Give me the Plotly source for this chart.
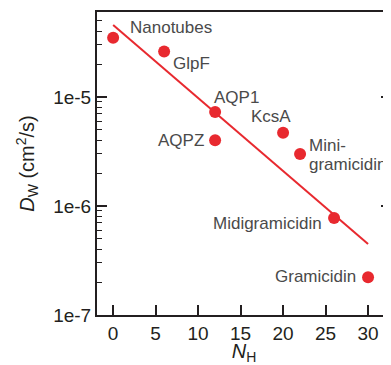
import plotly.graph_objects as go
import math

# Data
names = ["Nanotubes", "GlpF", "AQP1", "AQPZ", "KcsA", "Mini-gramicidin", "Midigramicidin", "Gramicidin"]
n_h = [0, 6, 12, 12, 20, 22, 26, 30]
d_w = [3.48e-5, 2.61e-5, 7.27e-6, 4.0e-6, 4.69e-6, 3.0e-6, 7.76e-7, 2.22e-7]

fit_x = [0, 30]
fit_y = [4.57e-5, 4.47e-7]

x_ticks = [0, 5, 10, 15, 20, 25, 30]
y_tickvals = [1e-7, 1e-6, 1e-5]
y_ticktext = ["1e-7", "1e-6", "1e-5"]

# label pieces: (text, anchor, xshift, yshift)
label_pos = {
    "Nanotubes": [("Nanotubes", "left", 15, 10)],
    "GlpF": [("GlpF", "left", 7, -12)],
    "AQP1": [("AQP1", "left", -3, 14)],
    "AQPZ": [("AQPZ", "right", -9, 0)],
    "KcsA": [("KcsA", "center", -12, 16)],
    "Mini-gramicidin": [("Mini-", "left", 7, 8), ("gramicidin", "left", 7, -11)],
    "Midigramicidin": [("Midigramicidin", "right", -10, -6)],
    "Gramicidin": [("Gramicidin", "right", -10, 1)],
}

RED = "#e8292f"
AXC = "#231f20"
TXT = "#4a4a4a"
FONT = "Liberation Sans, Arial, sans-serif"

fig = go.Figure()
fig.add_trace(go.Scatter(x=fit_x, y=fit_y, mode="lines",
                         line=dict(color=RED, width=2), showlegend=False))
fig.add_trace(go.Scatter(x=n_h, y=d_w, mode="markers",
                         marker=dict(color=RED, size=12, line=dict(width=0)),
                         showlegend=False))
fig.add_trace(go.Scatter(x=[None], y=[None], yaxis="y2", showlegend=False))

for nm, xv, yv in zip(names, n_h, d_w):
    for txt, anc, xs, ys in label_pos[nm]:
        fig.add_annotation(x=xv, y=math.log10(yv), text=txt, showarrow=False,
                           xanchor=anc, yanchor="middle", xshift=xs, yshift=ys,
                           font=dict(family=FONT, size=17, color=TXT))

yr = [-7, math.log10(6e-5)]
fig.update_layout(
    width=383, height=357, autosize=False,
    margin=dict(l=89, r=0, t=4, b=50),
    plot_bgcolor="white", paper_bgcolor="white",
    font=dict(family=FONT, color=AXC, size=19),
    xaxis=dict(range=[-1.9, 32.7], tickvals=x_ticks, ticks="inside", ticklen=10,
               tickwidth=2, tickcolor=AXC, showline=True, linecolor=AXC, linewidth=2,
               mirror=True, showgrid=False, zeroline=False,
               tickfont=dict(size=19, color=AXC),
               title=dict(text="<i>N</i><sub>H</sub>", font=dict(size=20, color=AXC), standoff=7)),
    yaxis=dict(type="log", range=yr, tickvals=y_tickvals, ticktext=y_ticktext,
               ticks="inside", ticklen=10, tickwidth=2, tickcolor=AXC,
               showline=True, linecolor=AXC, linewidth=2, showgrid=False, zeroline=False,
               minor=dict(ticks="inside", ticklen=5, tickwidth=1, tickcolor=AXC, dtick="D1", showgrid=False),
               tickfont=dict(size=19, color=AXC),
               title=dict(text="<i>D</i><sub>W</sub> (cm<sup>2</sup>/s)", font=dict(size=20, color=AXC), standoff=13)),
    yaxis2=dict(type="log", range=yr, overlaying="y", side="right", showline=False,
                tickvals=y_tickvals, ticks="inside", ticklen=10, tickwidth=2, tickcolor=AXC,
                showticklabels=False, showgrid=False, zeroline=False,
                minor=dict(ticks="inside", ticklen=5, tickwidth=1, tickcolor=AXC, dtick="D1", showgrid=False)),
)

fig.write_html("out.html")
